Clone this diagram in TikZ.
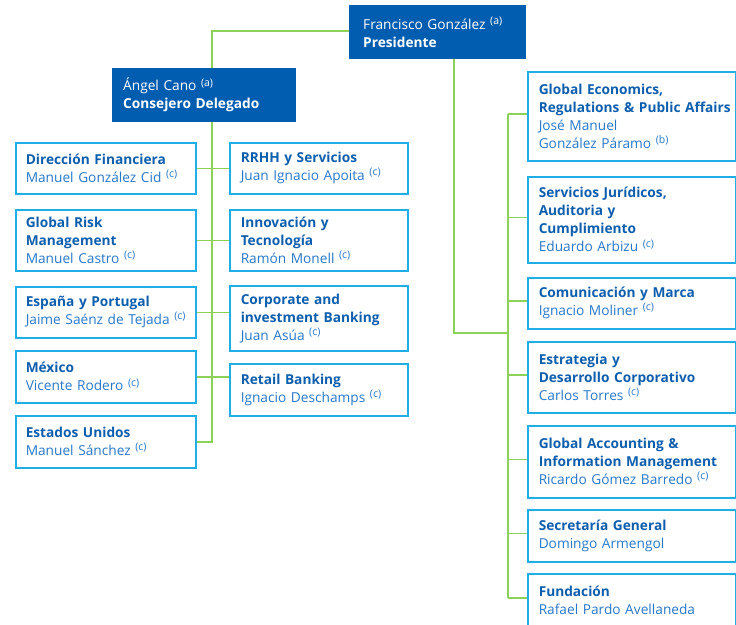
\documentclass[tikz,border=0pt]{standalone}
\usepackage{fontspec}
\setmainfont{Open Sans}
\definecolor{hdrfill}{RGB}{0,93,176}
\definecolor{cyanb}{RGB}{31,174,230}
\definecolor{conn}{RGB}{140,210,90}
\definecolor{ttlc}{RGB}{14,94,174}
\definecolor{nmc}{RGB}{40,120,200}
\newcommand\fnote[1]{\raisebox{0.36em}{\fontsize{10.5}{10.5}\selectfont(#1)}}
\newcommand\ttl[1]{{\bfseries\color{ttlc}#1}}
\newcommand\nmx[1]{{\color{nmc}#1}}
\begin{document}
\begin{tikzpicture}[x=1pt,y=-1pt,
  basebox/.style={anchor=north west, inner ysep=0pt, align=left,
    font=\fontsize{13.7}{18}\selectfont},
  hdr/.style={basebox, fill=hdrfill, text=white, minimum height=54},
  lbox/.style={basebox, draw=cyanb, line width=1.5pt, inner xsep=10pt, minimum width=180, text width=160},
  mbox/.style={basebox, draw=cyanb, line width=1.5pt, inner xsep=11pt, minimum width=178, text width=156},
  rbox/.style={basebox, draw=cyanb, line width=1.5pt, inner xsep=11pt, minimum width=208, text width=186},
  link/.style={draw=conn, line width=1.5pt}]
\useasboundingbox (0,0) rectangle (736,624);

% header boxes
\node[hdr, inner xsep=14pt, minimum width=177, text width=149] (pres) at (349,5)
  {\mbox{Francisco González~\fnote{a}}\\\textbf{Presidente}};
\node[hdr, inner xsep=11pt, minimum width=184, text width=162] (angel) at (112,68)
  {Ángel Cano~\fnote{a}\\\textbf{\mbox{Consejero Delegado}}};

% left column
\node[lbox, minimum height=51] (dir) at (15,142) {\ttl{\mbox{Dirección Financiera}}\\\nmx{\mbox{Manuel González Cid~\fnote{c}}}};
\node[lbox, minimum height=61] (grm) at (15,209) {\ttl{Global Risk}\\\ttl{Management}\\\nmx{Manuel Castro~\fnote{c}}};
\node[lbox, minimum height=51] (esp) at (15,286) {\ttl{\mbox{España y Portugal}}\\\nmx{\mbox{Jaime Saénz de Tejada~\fnote{c}}}};
\node[lbox, minimum height=52] (mex) at (15,350) {\ttl{México}\\\nmx{Vicente Rodero~\fnote{c}}};
\node[lbox, minimum height=52] (eeuu) at (15,415) {\ttl{Estados Unidos}\\\nmx{\mbox{Manuel Sánchez~\fnote{c}}}};

% middle column
\node[mbox, minimum height=51] (rrhh) at (229,142) {\ttl{RRHH y Servicios}\\\nmx{\mbox{Juan Ignacio Apoita~\fnote{c}}}};
\node[mbox, minimum height=61] (inno) at (229,209) {\ttl{Innovación y}\\\ttl{Tecnología}\\\nmx{Ramón Monell~\fnote{c}}};
\node[mbox, minimum height=65] (cib) at (229,285) {\ttl{Corporate and}\\\ttl{\mbox{investment Banking}}\\\nmx{Juan Asúa~\fnote{c}}};
\node[mbox, minimum height=52] (ret) at (229,363) {\ttl{Retail Banking}\\\nmx{\mbox{Ignacio Deschamps~\fnote{c}}}};

% right column
\node[rbox, minimum height=89] (ge) at (527,71) {\ttl{Global Economics,}\\\ttl{\mbox{Regulations \& Public Affairs}}\\\nmx{José Manuel}\\\nmx{González Páramo~\fnote{b}}};
\node[rbox, minimum height=86] (sj) at (527,176) {\ttl{Servicios Jurídicos,}\\\ttl{Auditoria y}\\\ttl{Cumplimiento}\\\nmx{Eduardo Arbizu~\fnote{c}}};
\node[rbox, minimum height=51] (com) at (527,277) {\ttl{\mbox{Comunicación y Marca}}\\\nmx{Ignacio Moliner~\fnote{c}}};
\node[rbox, minimum height=71] (est) at (527,341) {\ttl{Estrategia y}\\\ttl{\mbox{Desarrollo Corporativo}}\\\nmx{Carlos Torres~\fnote{c}}};
\node[rbox, minimum height=72] (ga) at (527,425) {\ttl{Global Accounting \&}\\\ttl{\mbox{Information Management}}\\\nmx{\mbox{Ricardo Gómez Barredo~\fnote{c}}}};
\node[rbox, minimum height=52] (sec) at (527,509) {\ttl{Secretaría General}\\\nmx{Domingo Armengol}};
\node[rbox, minimum height=53] (fund) at (527,573) {\ttl{Fundación}\\\nmx{\mbox{Rafael Pardo Avellaneda}}};

% connector coordinates
\coordinate (lt) at (212,31);
\coordinate (pd) at (454,333);
\coordinate (rt) at (508,0);

% president to consejero
\draw[link] (pres.west |- lt) -- (lt) -- (lt |- angel.north);
% left trunk
\draw[link] (lt |- angel.south) -- (lt |- eeuu.east) -- (eeuu.east);
\draw[link] (dir.east) -- (rrhh.west |- dir.east);
\draw[link] (grm.east) -- (inno.west |- grm.east);
\draw[link] (esp.east) -- (cib.west |- esp.east);
\draw[link] (mex.east) -- (ret.west |- mex.east);
% president to right column
\draw[link] (pres.south -| pd) -- (pd) -- (pd -| rt);
\draw[link] ([yshift=2.5pt]ge.west -| rt) -- ([yshift=2.5pt]fund.west -| rt);
\foreach \n in {ge,sj,com,est,ga,sec,fund}
  \draw[link] ([yshift=2.5pt]\n.west -| rt) -- ([yshift=2.5pt]\n.west);
\end{tikzpicture}
\end{document}
